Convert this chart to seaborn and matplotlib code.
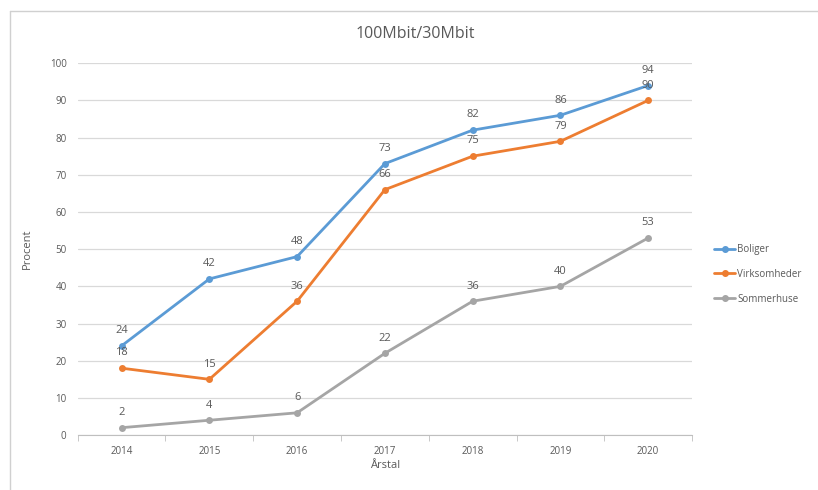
import pandas as pd
import matplotlib.pyplot as plt
import seaborn as sns
from matplotlib.lines import Line2D

# Data
years = [2014, 2015, 2016, 2017, 2018, 2019, 2020]
boliger = [24, 42, 48, 73, 82, 86, 94]
virksomheder = [18, 15, 36, 66, 75, 79, 90]
sommerhuse = [2, 4, 6, 22, 36, 40, 53]

series_names = ["Boliger", "Virksomheder", "Sommerhuse"]
colors = ["#5B9BD5", "#ED7D31", "#A5A5A5"]

df = pd.DataFrame({
    "År": years * 3,
    "Procent": boliger + virksomheder + sommerhuse,
    "Serie": [n for n in series_names for _ in years],
})

sns.set_style("white")
plt.rcParams['font.family'] = ['Open Sans', 'DejaVu Sans']

fig = plt.figure(figsize=(8.18, 4.9), dpi=100)
ax = fig.add_axes([0.095, 0.112, 0.751, 0.759])

sns.lineplot(data=df, x="År", y="Procent", hue="Serie", palette=colors,
             marker="o", markersize=5, markeredgewidth=0, linewidth=2,
             legend=False, ax=ax)

# data labels
for vals in [boliger, virksomheder, sommerhuse]:
    for x, v in zip(years, vals):
        ax.annotate(str(v), (x, v), xytext=(0, 7), textcoords="offset points",
                    ha="center", va="bottom", fontsize=8, color="#595959")

ax.set_xlim(2013.5, 2020.5)
ax.set_ylim(0, 100)
ax.set_yticks(range(0, 101, 10))
ax.set_xticks(years)
ax.set_xticks([y - 0.5 for y in years] + [2020.5], minor=True)
ax.tick_params(axis="x", which="major", length=0, labelsize=7, colors="#595959", pad=8)
ax.tick_params(axis="x", which="minor", length=4, color="#BFBFBF", bottom=True)
ax.tick_params(axis="y", length=0, labelsize=7, colors="#595959", pad=8)
ax.yaxis.grid(True, color="#D9D9D9", linewidth=0.9)
ax.set_axisbelow(True)
for s in ["top", "right", "left"]:
    ax.spines[s].set_visible(False)
ax.spines["bottom"].set_color("#BFBFBF")

ax.set_xlabel("Årstal", fontsize=8, color="#595959", labelpad=2)
ax.set_ylabel("Procent", fontsize=8, color="#595959", labelpad=12)
fig.text(0.508, 0.93, "100Mbit/30Mbit", ha="center", va="center",
         fontsize=11.5, color="#595959")

handles = [Line2D([0], [0], color=c, lw=2, marker="o", markersize=4) for c in colors]
fig.legend(handles, series_names, loc="center left", bbox_to_anchor=(0.862, 0.44),
           frameon=False, fontsize=7, labelcolor="#595959", handlelength=2.2,
           handletextpad=0.2, labelspacing=1.4)

# outer frame lines
fig.add_artist(Line2D([10 / 818, 10 / 818], [0, 1 - 11 / 490], transform=fig.transFigure,
                      color="#D0D0D0", lw=1))
fig.add_artist(Line2D([10 / 818, 1], [1 - 11 / 490, 1 - 11 / 490], transform=fig.transFigure,
                      color="#D0D0D0", lw=1))

fig.savefig("out.png", dpi=100)
